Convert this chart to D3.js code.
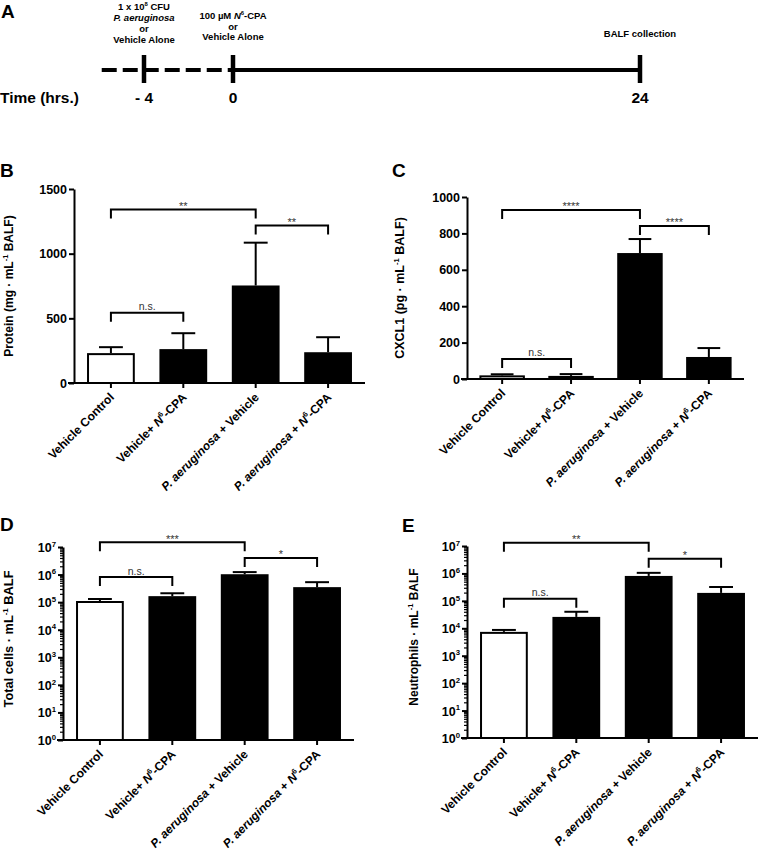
<!DOCTYPE html>
<html><head><meta charset="utf-8">
<script src="https://cdn.jsdelivr.net/npm/d3@7"></script>
<style>body{margin:0;background:#fff} svg{display:block} text{font-family:"Liberation Sans",Arial,Helvetica,sans-serif}</style>
</head><body><svg id="c" width="760" height="851"></svg>
<script>
// ---------------- DATA ----------------
const categories = ["Vehicle Control","Vehicle+ N6-CPA","P. aeruginosa + Vehicle","P. aeruginosa + N6-CPA"];
const categoryParts = [
  [["Vehicle Control",""]],
  [["Vehicle+ ",""],["N","i"],["6","sup"],["-CPA",""]],
  [["P. aeruginosa","i"],[" + Vehicle",""]],
  [["P. aeruginosa","i"],[" + ",""],["N","i"],["6","sup"],["-CPA",""]]
];
// Panel B – protein
const proteinMean = [231, 262, 754, 238];
const proteinSEM  = [46, 123, 331, 116];
const proteinTicks = [0, 500, 1000, 1500];
const proteinSig = [{a:0,b:2,v:1341,label:"**"},{a:2,b:3,v:1217,label:"**"},{a:0,b:1,v:543,label:"n.s."}];
// Panel C – CXCL1
const cxclMean = [20, 17, 692, 121];
const cxclSEM  = [6, 10, 77, 49];
const cxclTicks = [0, 200, 400, 600, 800, 1000];
const cxclSig = [{a:0,b:2,v:929,label:"****"},{a:2,b:3,v:841,label:"****"},{a:0,b:1,v:110,label:"n.s."}];
// Panel D – total cells
const cellsMean = [1.1e5, 1.65e5, 1.03e6, 3.5e5];
const cellsSEM  = [2.0e4, 4.5e4, 2.0e5, 1.8e5];
const logTicks = [1, 10, 100, 1e3, 1e4, 1e5, 1e6, 1e7];
const cellsSig = [{a:0,b:2,v:1.5e7,label:"***"},{a:2,b:3,v:4.0e6,label:"*"},{a:0,b:1,v:8.1e5,label:"n.s."}];
// Panel E – neutrophils
const neutMean = [7.4e3, 2.6e4, 8.1e5, 1.95e5];
const neutSEM  = [1.3e3, 1.4e4, 2.4e5, 1.25e5];
const neutSig = [{a:0,b:2,v:1.3e7,label:"**"},{a:2,b:3,v:3.4e6,label:"*"},{a:0,b:1,v:1.2e5,label:"n.s."}];
// Panel A – timeline
const timePoints = [-4, 0, 24];
const timeLabels = ["- 4", "0", "24"];
const dashStart = -5.9;
const eventLabels = [
  [[["1 x 10",""],["8","sup"],[" CFU",""]], [["P. aeruginosa","i"]], [["or",""]], [["Vehicle Alone",""]]],
  [[["100 µM ",""],["N","i"],["6","sup"],["-CPA",""]], [["or",""]], [["Vehicle Alone",""]]],
  [[["BALF collection",""]]]
];

// ---------------- DRAWING ----------------
const svg = d3.select("#c");

function rich(sel, parts, size, anchor){
  sel.attr("text-anchor","start").attr("font-size",size);
  const up = size*0.42;
  let raised = false;
  parts.forEach(([t,s])=>{
    const ts = sel.append("tspan").text(t);
    if (s==="i") ts.attr("font-style","italic");
    if (s==="sup"){ ts.attr("font-size", size*0.62).attr("dy", -up); raised = true; }
    else if (raised){ ts.attr("dy", up); raised = false; }
  });
  const L = sel.node().getComputedTextLength();
  sel.attr("x", anchor==="end" ? -L : anchor==="middle" ? -L/2 : 0);
  return sel;
}
function letter(t, x, y){
  svg.append("text").attr("x",x).attr("y",y).attr("font-size",19).attr("font-weight","bold").text(t);
}

// ---- Panel A
(function(){
  const tx = d3.scaleLinear().domain([-4,0,24]).range([144,233,640]);
  const ly = 70;
  const g = svg.append("g");
  g.append("line").attr("x1",tx(dashStart)).attr("x2",tx(0)).attr("y1",ly).attr("y2",ly)
    .attr("stroke","#000").attr("stroke-width",4).attr("stroke-dasharray","15,6");
  g.append("line").attr("x1",tx(0)).attr("x2",tx(24)).attr("y1",ly).attr("y2",ly)
    .attr("stroke","#000").attr("stroke-width",4);
  g.selectAll("line.tk").data(timePoints).join("line").attr("class","tk")
    .attr("x1",d=>tx(d)).attr("x2",d=>tx(d)).attr("y1",55).attr("y2",83)
    .attr("stroke","#000").attr("stroke-width",4.5);
  g.selectAll("text.tl").data(timePoints).join("text").attr("class","tl")
    .attr("x",d=>tx(d)).attr("y",103).attr("text-anchor","middle")
    .attr("font-size",15.5).attr("font-weight","bold").text((d,i)=>timeLabels[i]);
  g.append("text").attr("x",0).attr("y",103).attr("font-size",15.5).attr("font-weight","bold").text("Time (hrs.)");
  const firstBase = [10, 19, 37], lh = [11, 10.5, 11];
  eventLabels.forEach((lines,k)=>{
    lines.forEach((parts,j)=>{
      const t = g.append("text")
        .attr("transform",`translate(${tx(timePoints[k])},${firstBase[k]+j*lh[k]})`)
        .attr("font-weight","bold");
      rich(t, parts, 9.5, "middle");
    });
  });
  letter("A", 1, 18);
})();

// ---- bar panels
function drawPanel(cfg){
  const g = svg.append("g");
  const y = cfg.log
    ? d3.scaleLog().domain([1,1e7]).range([cfg.yBottom,cfg.yTop])
    : d3.scaleLinear().domain([0,cfg.max]).range([cfg.yBottom,cfg.yTop]);
  const x = d3.scaleBand().domain(d3.range(categories.length)).range([cfg.x0,cfg.x1])
    .paddingInner(0.34).paddingOuter(0.18);
  const cx = i => x(i) + x.bandwidth()/2;

  // bars
  g.selectAll("rect.bar").data(cfg.mean).join("rect").attr("class","bar")
    .attr("x",(d,i)=> i===0 ? x(i)+1 : x(i))
    .attr("width",(d,i)=> i===0 ? x.bandwidth()-2 : x.bandwidth())
    .attr("y",(d,i)=> i===0 ? y(d)+1 : y(d))
    .attr("height",(d,i)=> cfg.yBottom - y(d) - (i===0?1:0))
    .attr("fill",(d,i)=> i===0 ? "#fff" : "#000")
    .attr("stroke","#000").attr("stroke-width",(d,i)=> i===0 ? 2 : 0);
  // error bars (upward)
  const capW = x.bandwidth()*0.5;
  cfg.mean.forEach((m,i)=>{
    const top = y(m + cfg.sem[i]);
    g.append("line").attr("x1",cx(i)).attr("x2",cx(i)).attr("y1",y(m)).attr("y2",top)
      .attr("stroke","#000").attr("stroke-width",2);
    g.append("line").attr("x1",cx(i)-capW/2).attr("x2",cx(i)+capW/2).attr("y1",top).attr("y2",top)
      .attr("stroke","#000").attr("stroke-width",2);
  });

  // y axis
  const ya = d3.axisLeft(y).tickValues(cfg.ticks).tickSize(5).tickSizeOuter(0).tickPadding(2);
  if (cfg.log) ya.tickFormat(""); else ya.tickFormat(d3.format("d"));
  const yg = g.append("g").attr("transform",`translate(${cfg.x0},0)`).call(ya);
  yg.select(".domain").attr("stroke-width",2);
  yg.selectAll(".tick line").attr("stroke-width",2);
  yg.selectAll(".tick text").attr("font-size",12.5).attr("font-weight","bold")
    .attr("fill","#000").attr("font-family",null);
  if (cfg.log){
    const minor = [];
    for (let d=0; d<7; d++) for (let k=2; k<10; k++) minor.push(k*Math.pow(10,d));
    const mg = g.append("g").attr("transform",`translate(${cfg.x0},0)`)
      .call(d3.axisLeft(y).tickValues(minor).tickSize(3).tickFormat(""));
    mg.select(".domain").remove();
    mg.selectAll(".tick line").attr("stroke-width",1.2);
    yg.selectAll(".tick").each(function(d){
      d3.select(this).select("text").remove();
      const t = d3.select(this).append("text").attr("fill","#000").attr("font-weight","bold")
        .attr("transform","translate(-7,4.5)");
      rich(t, [["10",""],[String(Math.round(Math.log10(d))),"sup"]], 12.5, "end");
    });
  }
  // x axis
  const xa = d3.axisBottom(x).tickSize(5).tickSizeOuter(0).tickFormat("");
  const xg = g.append("g").attr("transform",`translate(0,${cfg.yBottom})`).call(xa);
  xg.select(".domain").remove();
  xg.selectAll(".tick line").attr("stroke-width",2);
  g.append("line").attr("x1",cfg.x0-6).attr("x2",cfg.x1).attr("y1",cfg.yBottom).attr("y2",cfg.yBottom)
    .attr("stroke","#000").attr("stroke-width",2);
  // x labels
  categoryParts.forEach((parts,i)=>{
    const t = g.append("text")
      .attr("transform",`translate(${cx(i)+4},${cfg.yBottom+15}) rotate(-45)`)
      .attr("font-weight","bold");
    rich(t, parts, 12, "end");
  });
  // significance brackets
  const leg = 9;
  cfg.sig.forEach(s=>{
    const yy = y(s.v);
    g.append("path")
      .attr("d",`M${cx(s.a)},${yy+leg}V${yy}H${cx(s.b)}V${yy+leg}`)
      .attr("fill","none").attr("stroke","#000").attr("stroke-width",2);
    const isNS = s.label==="n.s.";
    g.append("text").attr("x",(cx(s.a)+cx(s.b))/2).attr("y", isNS ? yy-2.5 : yy+0.5)
      .attr("text-anchor","middle").attr("font-size", isNS ? 10.5 : 11).attr("fill","#333")
      .text(s.label);
  });
  // y title
  const tt = g.append("text")
    .attr("transform",`translate(${cfg.titleX},${cfg.titleY}) rotate(-90)`)
    .attr("font-weight","bold");
  rich(tt, cfg.title, cfg.titleSize || 12, "middle");
  letter(cfg.letter, cfg.letterX, cfg.letterY);
}

drawPanel({letter:"B", letterX:0, letterY:177, x0:74, x1:365, yTop:189, yBottom:383, max:1500,
  ticks:proteinTicks, mean:proteinMean, sem:proteinSEM, sig:proteinSig,
  title:[["Protein (mg · mL",""],["-1","sup"],[" BALF)",""]], titleX:13, titleY:286});
drawPanel({letter:"C", letterX:392, letterY:177, x0:467, x1:744, yTop:197, yBottom:379, max:1000,
  ticks:cxclTicks, mean:cxclMean, sem:cxclSEM, sig:cxclSig,
  title:[["CXCL1 (pg · mL",""],["-1","sup"],[" BALF)",""]], titleX:404, titleY:288, titleSize:12.5});
drawPanel({letter:"D", letterX:0, letterY:531, x0:63, x1:354, yTop:547, yBottom:740, log:true,
  ticks:logTicks, mean:cellsMean, sem:cellsSEM, sig:cellsSig,
  title:[["Total cells · mL",""],["-1","sup"],[" BALF",""]], titleX:13, titleY:639, titleSize:12.8});
drawPanel({letter:"E", letterX:402, letterY:532, x0:467, x1:758, yTop:546, yBottom:738, log:true,
  ticks:logTicks, mean:neutMean, sem:neutSEM, sig:neutSig,
  title:[["Neutrophils · mL",""],["-1","sup"],[" BALF",""]], titleX:418, titleY:637});
</script></body></html>
